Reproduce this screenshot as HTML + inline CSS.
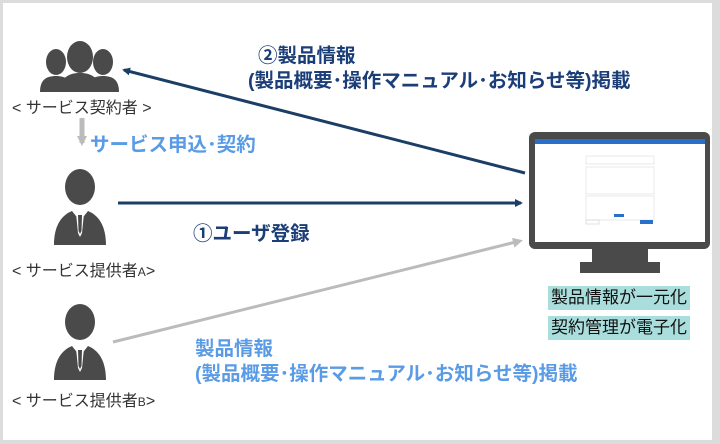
<!DOCTYPE html>
<html><head><meta charset="utf-8"><style>
body{margin:0;width:720px;height:444px;overflow:hidden;background:#fff;font-family:"Liberation Sans","Noto Sans CJK JP",sans-serif}
.frame{position:absolute;left:0;top:0;width:720px;height:444px;box-sizing:border-box;border:3px solid #dcdcdc;border-right-width:8px;border-bottom-width:4px}
.t{position:absolute;white-space:nowrap}
.nv{color:#1b3e78;font-weight:bold;font-size:19.5px}
.lb{color:#5a9be6;font-weight:bold;font-size:19.5px}
.lab{color:#333;font-size:16px}
.tag{position:absolute;background:#a9dedd;color:#111;font-size:17px;padding:0 3px;line-height:24px}
</style></head><body>
<div class="frame"></div>
<svg width="720" height="444" style="position:absolute;left:0;top:0">
<defs>
<marker id="an" markerWidth="8" markerHeight="8" refX="6" refY="4" orient="auto" markerUnits="userSpaceOnUse"><path d="M0,0 L8,4 L0,8 Z" fill="#1b3e66"/></marker>
<marker id="ag" markerWidth="10" markerHeight="10" refX="7" refY="5" orient="auto" markerUnits="userSpaceOnUse"><path d="M0,0 L10,5 L0,10 Z" fill="#bbb"/></marker>
<g id="person" fill="#4a4a4a">
<ellipse cx="0" cy="0" rx="15" ry="18"/>
<path d="M-26,58 C-26,38 -18,28 -8,24 L0,34 L8,24 C18,28 26,38 26,58 Z"/>
<path d="M-4,26 L4,26 L2,46 L0,50 L-2,46 Z" fill="#fff"/>
<path d="M-2,28 L2,28 L1.5,44 L0,47 L-1.5,44Z" fill="#4a4a4a"/>
</g>
</defs>
<g fill="#4a4a4a">
<ellipse cx="56" cy="62" rx="10" ry="13"/><path d="M40,92 C40,80 46,76 56,76 C66,76 72,80 72,92Z"/>
<ellipse cx="103" cy="62" rx="10" ry="13"/><path d="M87,92 C87,80 93,76 103,76 C113,76 119,80 119,92Z"/>
<ellipse cx="80" cy="57" rx="13" ry="16"/><path d="M60,92 C60,78 68,73 80,73 C92,73 100,78 100,92Z"/>
</g>
<use href="#person" x="80" y="187"/>
<use href="#person" x="80" y="322"/>
<line x1="82" y1="118" x2="82" y2="143" stroke="#bbb" stroke-width="5" marker-end="url(#ag)"/>
<line x1="525" y1="173" x2="124" y2="70" stroke="#1b3e66" stroke-width="3" marker-end="url(#an)"/>
<line x1="118" y1="203" x2="521" y2="203" stroke="#1b3e66" stroke-width="3" marker-end="url(#an)"/>
<line x1="113" y1="342" x2="520" y2="241" stroke="#bbb" stroke-width="3" marker-end="url(#ag)"/>
<rect x="529" y="132" width="181" height="117" rx="6" fill="#4a4a4a"/>
<rect x="535" y="139" width="170" height="103" fill="#fff"/>
<rect x="535" y="139" width="170" height="5" fill="#2a6fc9"/>
<rect x="586" y="156" width="68" height="8" fill="none" stroke="#ddd" stroke-width="0.6"/>
<rect x="586" y="167" width="68" height="27" fill="none" stroke="#ddd" stroke-width="0.6"/>
<rect x="586" y="196" width="68" height="24" fill="none" stroke="#ddd" stroke-width="0.6"/>
<rect x="614" y="214" width="10" height="3" fill="#2a6fc9"/>
<rect x="640" y="220" width="13" height="4" fill="#2a6fc9"/>
<rect x="586" y="220" width="13" height="4" fill="none" stroke="#ccc" stroke-width="0.6"/>
<rect x="592" y="249" width="56" height="14" fill="#4a4a4a"/>
<rect x="580" y="262" width="80" height="11" fill="#4a4a4a"/>
</svg>
<div class="t lab" style="left:12px;top:94px">&lt; サービス契約者 &gt;</div>
<div class="t lb" style="left:90px;top:128px">サービス申込･契約</div>
<div class="t lab" style="left:12px;top:257px">&lt; サービス提供者<span style="font-size:12px">A</span>&gt;</div>
<div class="t lab" style="left:12px;top:387px">&lt; サービス提供者<span style="font-size:12px">B</span>&gt;</div>
<div class="t nv" style="left:258px;top:39px">②製品情報</div>
<div class="t nv" style="left:248px;top:64px">(製品概要･操作マニュアル･お知らせ等)掲載</div>
<div class="t nv" style="left:193px;top:217px">①ユーザ登録</div>
<div class="t lb" style="left:195px;top:332px">製品情報</div>
<div class="t lb" style="left:195px;top:357px">(製品概要･操作マニュアル･お知らせ等)掲載</div>
<div class="tag" style="left:548px;top:286px">製品情報が一元化</div>
<div class="tag" style="left:548px;top:316px">契約管理が電子化</div>
</body></html>
